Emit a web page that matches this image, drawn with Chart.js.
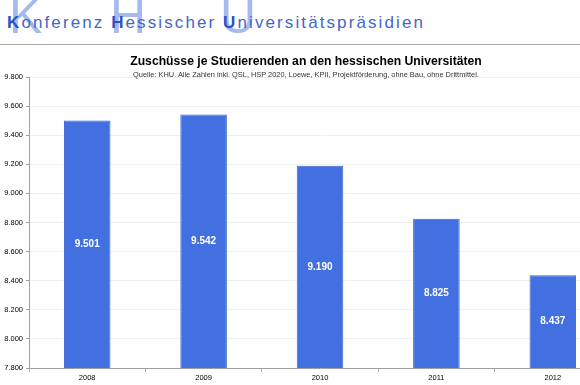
<!DOCTYPE html>
<html>
<head>
<meta charset="utf-8">
<script src="https://cdn.jsdelivr.net/npm/chart.js@4/dist/chart.umd.min.js"></script>
<style>
  html, body { margin: 0; padding: 0; background: #fff; }
  body { width: 580px; height: 385px; overflow: hidden; position: relative; font-family: "Liberation Sans", Arial, sans-serif; }
  .big { position: absolute; font-size: 50px; line-height: 50px; color: #a6bbed; top: -9px; }
  #kopf { position: absolute; left: 7px; top: 13px; font-size: 17px; letter-spacing: 2.1px; color: #4467c6; white-space: nowrap; }
  #kopf b { color: #2b52c6; }
  #linie { position: absolute; left: 0; top: 44px; width: 580px; height: 1px; background: #a9a9a9; }
  #titel { position: absolute; left: 0; width: 612px; top: 54px; text-align: center; font-size: 12.2px; font-weight: bold; color: #000; white-space: nowrap; }
  #quelle { position: absolute; left: 0; width: 612px; top: 70px; text-align: center; font-size: 7.4px; color: #333; white-space: nowrap; }
  #wrap { position: absolute; left: 0; top: 0; width: 614px; height: 385px; }
</style>
</head>
<body>
<div class="big" style="left:9px">K</div>
<div class="big" style="left:110px">H</div>
<div class="big" style="left:220px">U</div>
<div id="kopf"><b>K</b>onferenz <b>H</b>essischer <b>U</b>niversitätspräsidien</div>
<div id="linie"></div>
<div id="wrap"><canvas id="chart" width="614" height="385"></canvas></div>
<div id="titel">Zuschüsse je Studierenden an den hessischen Universitäten</div>
<div id="quelle">Quelle: KHU. Alle Zahlen inkl. QSL, HSP 2020, Loewe, KPII, Projektförderung, ohne Bau, ohne Drittmittel.</div>
<script>
const jahre = ['2008', '2009', '2010', '2011', '2012'];
const zuschuesse = [9501, 9542, 9190, 8825, 8437];
const yMin = 7800;
const yMax = 9800;
const yStep = 200;

const fmt = v => v.toLocaleString('de-DE');

// Werte mittig in die Balken schreiben
const wertLabels = {
  id: 'wertLabels',
  afterDraw(chart) {
    const ctx = chart.ctx;
    const xs = chart.scales.x;
    const ys = chart.scales.y;
    ctx.save();
    ctx.fillStyle = '#ffffff';
    ctx.font = 'bold 10px Liberation Sans, Arial, sans-serif';
    ctx.textAlign = 'center';
    ctx.textBaseline = 'middle';
    zuschuesse.forEach((v, i) => {
      const x = xs.getPixelForValue(i);
      const mitte = (ys.getPixelForValue(v) + ys.getPixelForValue(yMin)) / 2;
      ctx.fillText(fmt(v), x, mitte);
    });
    ctx.restore();
  }
};

new Chart(document.getElementById('chart'), {
  type: 'bar',
  data: {
    labels: jahre,
    datasets: [{
      data: zuschuesse,
      backgroundColor: '#4270e0',
      borderColor: '#3a63cf',
      borderWidth: 1,
      barPercentage: 0.4,
      categoryPercentage: 1.0
    }]
  },
  options: {
    responsive: false,
    animation: false,
    layout: { padding: { top: 77, right: 3, left: 0, bottom: 0 } },
    plugins: {
      legend: { display: false },
      tooltip: { enabled: false }
    },
    scales: {
      x: {
        afterFit: s => { s.height = 17; },
        grid: { display: true, offset: true, drawOnChartArea: false, tickLength: 4, color: '#b0b0b0' },
        border: { color: '#a0a0a0' },
        ticks: { padding: 1, color: '#000', font: { size: 7.5, family: '"Liberation Sans", Arial, sans-serif' } }
      },
      y: {
        min: yMin,
        max: yMax,
        afterFit: s => { s.width = 29; },
        grid: { color: '#f0f0f0', tickLength: 3, tickColor: '#a0a0a0' },
        border: { color: '#a0a0a0' },
        ticks: {
          stepSize: yStep,
          padding: 3,
          color: '#000',
          font: { size: 7.5, family: '"Liberation Sans", Arial, sans-serif' },
          callback: v => fmt(v)
        }
      }
    }
  },
  plugins: [wertLabels]
});
</script>
</body>
</html>
